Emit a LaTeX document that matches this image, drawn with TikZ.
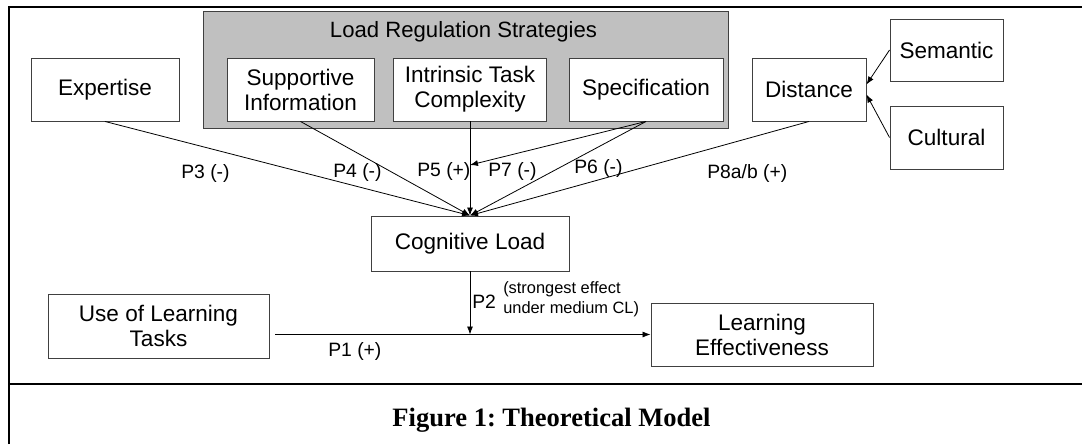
\documentclass[tikz,border=0pt]{standalone}
\usepackage{fontspec}
\setmainfont{Liberation Sans}
\newfontfamily\capfont{Liberation Serif}
\usetikzlibrary{arrows.meta}
\definecolor{stratgray}{HTML}{C0C0C0}
\definecolor{boxline}{HTML}{404040}
\frenchspacing
\begin{document}
\begin{tikzpicture}[x=0.75pt,y=-0.75pt]
		\tikzset{box/.style = {shape=rectangle,draw=boxline,fill=white,line width=0.7pt,inner sep=0pt,align=center,font=\fontsize{16.9}{18.8}\selectfont}}
		\tikzset{edge/.style = {-{Latex[length=6pt,width=4.5pt]},line width=0.6pt}}
		\tikzset{plabel/.style = {anchor=base west,inner sep=0pt,font=\fontsize{14.5}{16}\selectfont}}
		\tikzset{frame/.style = {line width=1.7pt}}
		\useasboundingbox (0,0) rectangle (1082,444);
		% outer frame and caption rule
		\draw[frame] (9,444) -- (9,7) -- (1082,7);
		\draw[frame] (9,384) -- (1082,384);
		% strategy group
		\node[shape=rectangle,draw=boxline,fill=stratgray,line width=0.7pt,minimum width=393.75pt,minimum height=87.75pt] (strat) at (465.5,69.5) {};
		\node[anchor=base,inner sep=0pt,font=\fontsize{16.6}{18.8}\selectfont] (strattitle) at (463.5,37) {Load Regulation Strategies};
		\node[box,minimum width=111pt,minimum height=47.25pt] (expertise) at (105,89.5) {Expertise};
		\node[box,minimum width=110.25pt,minimum height=47.25pt] (supportive) at (300.5,89.5) {Supportive\\Information};
		\node[box,minimum width=114.75pt,minimum height=47.25pt] (intrinsic) at (470,89.5) {Intrinsic Task\\Complexity};
		\node[box,minimum width=115.5pt,minimum height=47.25pt] (specification) at (646,89.5) {Specification};
		\node[box,minimum width=85.5pt,minimum height=47.25pt] (distance) at (809,89.5) {Distance};
		\node[box,minimum width=84.75pt,minimum height=46.5pt] (semantic) at (946.5,50) {Semantic};
		\node[box,minimum width=84.75pt,minimum height=47.25pt] (cultural) at (946.5,137.5) {Cultural};
		\node[box,minimum width=148.5pt,minimum height=41.25pt] (cl) at (470,243.5) {Cognitive Load};
		\node[box,minimum width=165.75pt,minimum height=48pt] (usetasks) at (158.5,326) {Use of Learning\\Tasks};
		\node[box,minimum width=166.5pt,minimum height=47.25pt] (learneff) at (762,334.5) {Learning\\Effectiveness};
		\coordinate (p7end) at (470,165);
		\coordinate (p1start) at (275,334.5);
		\coordinate (p2end) at (cl.south |- learneff.west);
		% paths into cognitive load
		\draw[edge] (expertise.south) -- (cl.north);
		\draw[edge] (supportive.south) -- (cl.north);
		\draw[edge] (intrinsic.south) -- (cl.north);
		\draw[edge] (specification.south) -- (cl.north);
		\draw[edge] (specification.south) -- (p7end);
		\draw[edge] (distance.south) -- (cl.north);
		\draw[edge] (semantic.west) -- (distance.5);
		\draw[edge] (cultural.west) -- (distance.-5);
		\draw[edge] (p1start) -- (learneff.west);
		\draw[edge] (cl.south) -- (p2end);
		% labels
		\node[plabel] (lp3) at (181,178) {P3 (-)};
		\node[plabel] (lp4) at (333,177) {P4 (-)};
		\node[plabel] (lp5) at (417,176) {P5 (+)};
		\node[plabel] (lp7) at (488,176) {P7 (-)};
		\node[plabel] (lp6) at (574,173) {P6 (-)};
		\node[plabel] (lp8) at (707,178) {P8a/b (+)};
		\node[plabel] (lp1) at (328,356) {P1 (+)};
		\node[plabel] (lp2) at (472,308) {P2};
		\node[anchor=base west,inner sep=0pt,align=left,font=\fontsize{12.3}{14.5}\selectfont] (lp2note) at (503,313) {(strongest effect\\under medium CL)};
		\node[anchor=base,inner sep=0pt,font=\capfont\bfseries\fontsize{19.9}{22}\selectfont] (caption) at (551.5,426) {Figure 1: Theoretical Model};
	\end{tikzpicture}
\end{document}
